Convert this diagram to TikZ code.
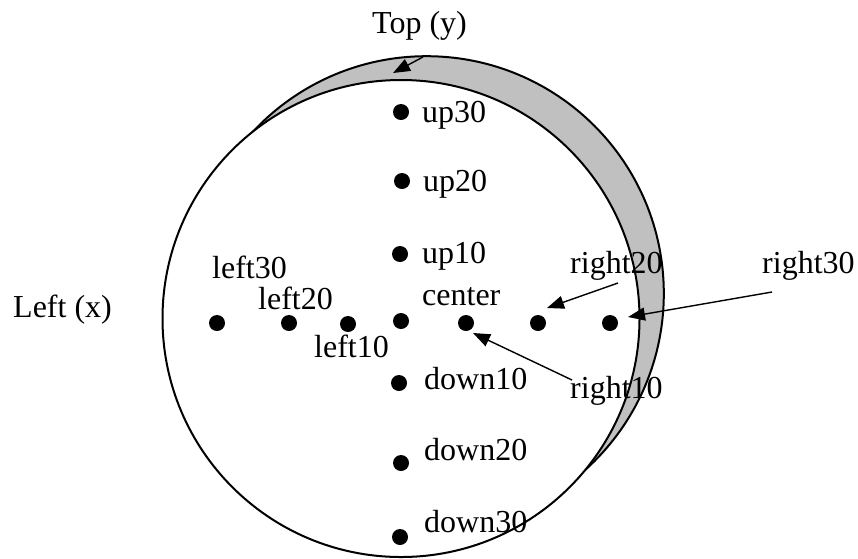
\documentclass[tikz,border=0pt]{standalone}
\usepackage{fontspec}
\setmainfont{Liberation Serif}
\usetikzlibrary{arrows.meta}
\definecolor{bandgray}{RGB}{192,192,192}
\tikzset{
  dot/.style={circle,fill=black,inner sep=0pt,minimum size=16pt},
  lbl/.style={anchor=base west,inner sep=0pt,font=\fontsize{32}{38}\selectfont},
  pointer/.style={line width=1.4pt,-{Triangle[length=17pt,width=13pt]}},
  rim/.style={line width=2pt,draw=black}
}
\begin{document}
\begin{tikzpicture}[x=1pt,y=-1pt]
\useasboundingbox (0,0) rectangle (858,558);
% circles
\fill[bandgray,rim] (426.5,293.5) circle (237.3);
\fill[white,rim] (401,318.5) circle (238.5);
% dots
\node[dot] (up30) at (401,112) {};
\node[dot] (up20) at (402,181) {};
\node[dot] (up10) at (400,254) {};
\node[dot] (ctr) at (401,321) {};
\node[dot] (dn10) at (399,383) {};
\node[dot] (dn20) at (401,463) {};
\node[dot] (dn30) at (400,537) {};
\node[dot] (l30) at (217,323) {};
\node[dot] (l20) at (289,323) {};
\node[dot] (l10) at (348,324) {};
\node[dot] (r10) at (466,323) {};
\node[dot] (r20) at (538,323) {};
\node[dot] (r30) at (610,323) {};
% labels
\node[lbl] (ttop) at (372,33) {Top (y)};
\node[lbl] (tleft) at (13,317) {Left (x)};
\node[lbl] (tup30) at (422,122) {up30};
\node[lbl] (tup20) at (423,191) {up20};
\node[lbl] (tup10) at (422,263) {up10};
\node[lbl] (tctr) at (422,305) {center};
\node[lbl] (tdn10) at (424,389) {down10};
\node[lbl] (tdn20) at (424,460) {down20};
\node[lbl] (tdn30) at (424,532) {down30};
\node[lbl] (tl30) at (212,278) {left30};
\node[lbl] (tl20) at (258,309) {left20};
\node[lbl] (tl10) at (314,357) {left10};
\node[lbl] (tr20) at (570,273) {right20};
\node[lbl] (tr30) at (762,273) {right30};
\node[lbl] (tr10) at (570,398) {right10};
% arrows
\coordinate (a1s) at (423,57);  \coordinate (a1e) at (393,73);
\coordinate (a2s) at (618,283); \coordinate (a2e) at (547,308);
\coordinate (a3s) at (772,292); \coordinate (a3e) at (628,317);
\coordinate (a4s) at (572,380); \coordinate (a4e) at (473,333);
\draw[pointer] (a1s) -- (a1e);
\draw[pointer] (a2s) -- (a2e);
\draw[pointer] (a3s) -- (a3e);
\draw[pointer] (a4s) -- (a4e);
\end{tikzpicture}
\end{document}
